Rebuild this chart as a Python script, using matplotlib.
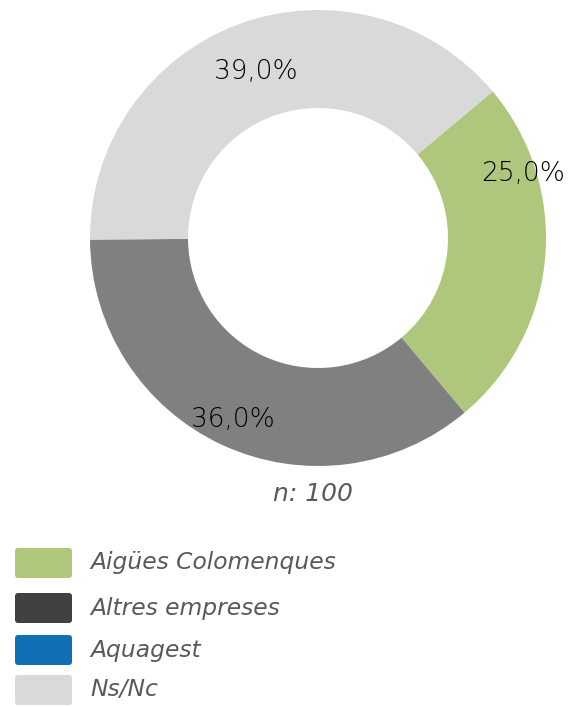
import matplotlib
matplotlib.use("Agg")
import matplotlib.pyplot as plt
from matplotlib.patches import FancyBboxPatch

categories = ["Aigües Colomenques", "Altres empreses", "Aquagest", "Ns/Nc"]
values = [25.0, 36.0, 0.0, 39.0]
slice_colors = ["#AEC77C", "#808080", "#1170B5", "#D9D9D9"]
legend_colors = ["#AEC77C", "#404040", "#1170B5", "#D9D9D9"]
value_labels = ["25,0%", "36,0%", "", "39,0%"]
note = "n: 100"

W, H = 570, 707
fig = plt.figure(figsize=(W / 100, H / 100), dpi=100)

# pie in a sub-axes with standard orientation
cx, cy, R = 318, 238, 228
pax = fig.add_axes([(cx - R) / W, 1 - (cy + R) / H, 2 * R / W, 2 * R / H])
pax.pie(values, colors=slice_colors, startangle=40, counterclock=False,
        radius=1.0, wedgeprops=dict(width=98 / 228, linewidth=0))
pax.set_xlim(-1, 1)
pax.set_ylim(-1, 1)
pax.axis("off")

ax = fig.add_axes([0, 0, 1, 1])
ax.set_zorder(5)
ax.patch.set_visible(False)
ax.set_xlim(0, W)
ax.set_ylim(H, 0)
ax.axis("off")

font = "DejaVu Sans"
label_pos = [(523, 174), (233, 420), None, (256, 72)]
for lab, pos in zip(value_labels, label_pos):
    if pos and lab:
        ax.text(pos[0], pos[1], lab, ha="center", va="center", fontsize=19,
                color="#000000", family=font, fontweight="light")

ax.text(313, 494, note, ha="center", va="center", fontsize=18,
        color="#595959", family=font, style="italic", fontweight="light")

rows_y = [563, 608, 650, 690]
for c, lab, y in zip(legend_colors, categories, rows_y):
    ax.add_patch(FancyBboxPatch((15 + 3, y - 15 + 3), 57 - 6, 30 - 6,
                                boxstyle="round,pad=3", fc=c, ec="none"))
    ax.text(90, y, lab, ha="left", va="center", fontsize=16.8,
            color="#595959", family=font, style="italic", fontweight="light")

fig.savefig("out.png", dpi=100)
